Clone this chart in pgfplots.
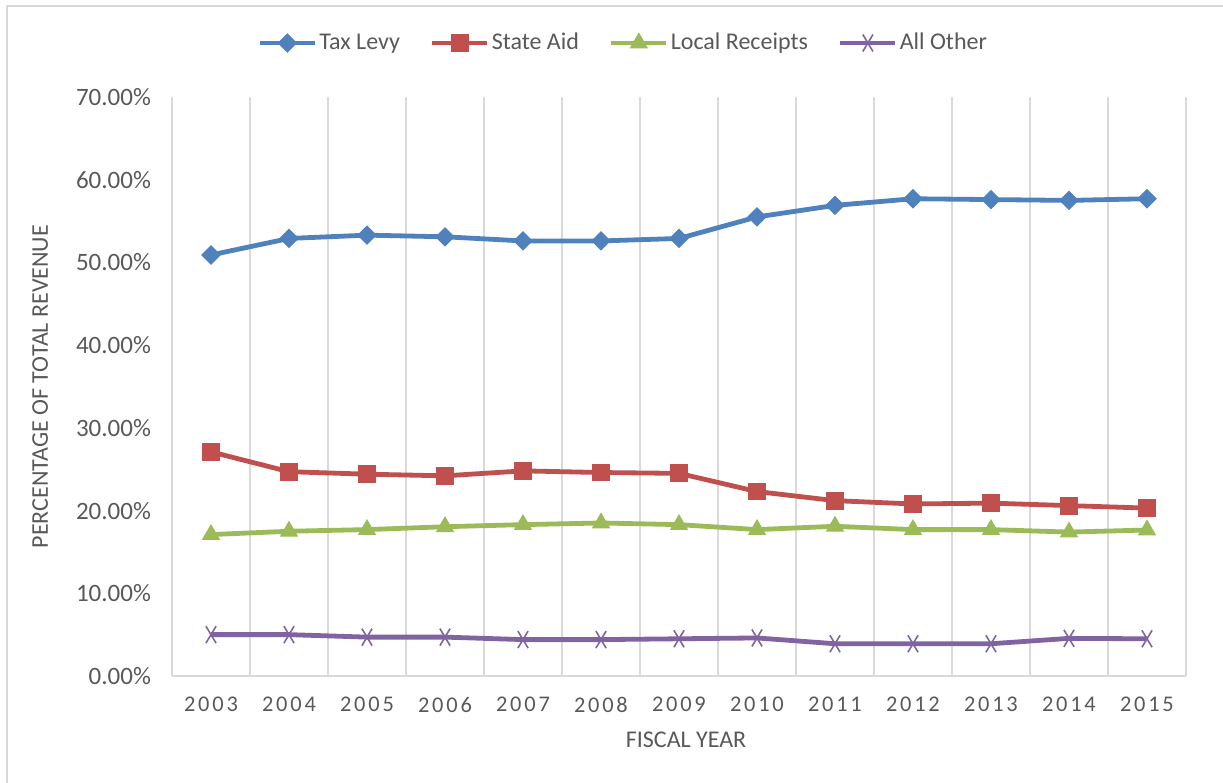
\documentclass[border=0pt]{standalone}
\usepackage{pgfplots}
\pgfplotsset{compat=1.18}
\usepackage{fontspec}
\setmainfont{Carlito}
\definecolor{cblue}{HTML}{4F81BD}
\definecolor{cred}{HTML}{C0504D}
\definecolor{cgreen}{HTML}{9BBB59}
\definecolor{cpurple}{HTML}{8064A2}
\definecolor{ctext}{HTML}{595959}
\definecolor{cgrid}{HTML}{D9D9D9}
\newcommand{\yr}[4]{#1\kern1.4pt#2\kern1.4pt#3\kern1.4pt#4}
\begin{document}
\begin{tikzpicture}
\useasboundingbox (0,0) rectangle (611.5pt,391.5pt);
\draw[cgrid, line width=1pt] (3.5pt,0) -- (3.5pt,388.5pt) -- (611.5pt,388.5pt);
\begin{axis}[
  at={(86pt,53.5pt)}, anchor=south west,
  scale only axis, width=507pt, height=289.5pt,
  xmin=2002.5, xmax=2015.5, ymin=0, ymax=70,
  axis x line*=bottom, axis y line*=left,
  axis line style={cgrid, line width=0.8pt, -},
  xtick={2003,...,2015},
  xticklabels={\yr2003,\yr2004,\yr2005,\yr2006,\yr2007,\yr2008,\yr2009,\yr2010,\yr2011,\yr2012,\yr2013,\yr2014,\yr2015},
  minor xtick={2002.5,2003.5,...,2015.5},
  xminorgrids, minor grid style={cgrid, line width=0.8pt},
  ytick={0,10,...,70},
  yticklabels={0.00\%,10.00\%,20.00\%,30.00\%,40.00\%,50.00\%,60.00\%,70.00\%},
  major tick length=0pt, minor tick length=0pt,
  tick label style={font=\fontsize{12.5}{14}\selectfont, text=ctext},
  xticklabel style={font=\fontsize{11.2}{14}\selectfont, yshift=-7pt},
  yticklabel style={xshift=-7pt},
  xlabel={FISCAL YEAR}, ylabel={PERCENTAGE OF TOTAL REVENUE},
  label style={font=\fontsize{12}{14}\selectfont, text=ctext},
  xlabel style={at={(axis description cs:0.507,-0.1105)}, anchor=center},
  ylabel style={at={(axis description cs:-0.13,0.5)}, anchor=center},
  legend columns=4,
  legend style={at={(axis description cs:0.445,1.0933)}, anchor=center, draw=none, fill=none,
    font=\fontsize{12}{14}\selectfont, text=ctext,
    /tikz/every even column/.append style={column sep=14pt},
    nodes={inner xsep=1pt}},
  legend image code/.code={\draw[mark repeat=2,mark phase=2] plot coordinates {(0pt,0pt) (13.75pt,0pt) (27.5pt,0pt)};},
  every axis plot/.append style={line width=2.4pt},
]
\addplot[cblue, mark=square*, mark size=3.2pt, mark options={rotate=45, line width=0.5pt}] coordinates {
(2003,50.9)(2004,52.9)(2005,53.3)(2006,53.1)(2007,52.6)(2008,52.6)(2009,52.9)(2010,55.5)(2011,56.9)(2012,57.7)(2013,57.6)(2014,57.5)(2015,57.7)};
\addlegendentry{Tax Levy}
\addplot[cred, mark=square*, mark size=4.2pt, mark options={line width=0.5pt}] coordinates {
(2003,27.1)(2004,24.7)(2005,24.4)(2006,24.2)(2007,24.8)(2008,24.6)(2009,24.5)(2010,22.3)(2011,21.2)(2012,20.8)(2013,20.9)(2014,20.6)(2015,20.3)};
\addlegendentry{State Aid}
\addplot[cgreen, mark=triangle*, mark size=4.8pt, mark options={line width=0.5pt}] coordinates {
(2003,17.1)(2004,17.5)(2005,17.7)(2006,18.05)(2007,18.3)(2008,18.5)(2009,18.3)(2010,17.7)(2011,18.1)(2012,17.7)(2013,17.7)(2014,17.4)(2015,17.65)};
\addlegendentry{Local Receipts}
\addplot[cpurple, mark=x, mark size=6pt, mark options={xscale=0.6, line width=0.8pt}] coordinates {
(2003,5.0)(2004,5.0)(2005,4.7)(2006,4.7)(2007,4.4)(2008,4.4)(2009,4.5)(2010,4.6)(2011,3.9)(2012,3.9)(2013,3.9)(2014,4.55)(2015,4.5)};
\addlegendentry{All Other}
\end{axis}
\end{tikzpicture}
\end{document}
